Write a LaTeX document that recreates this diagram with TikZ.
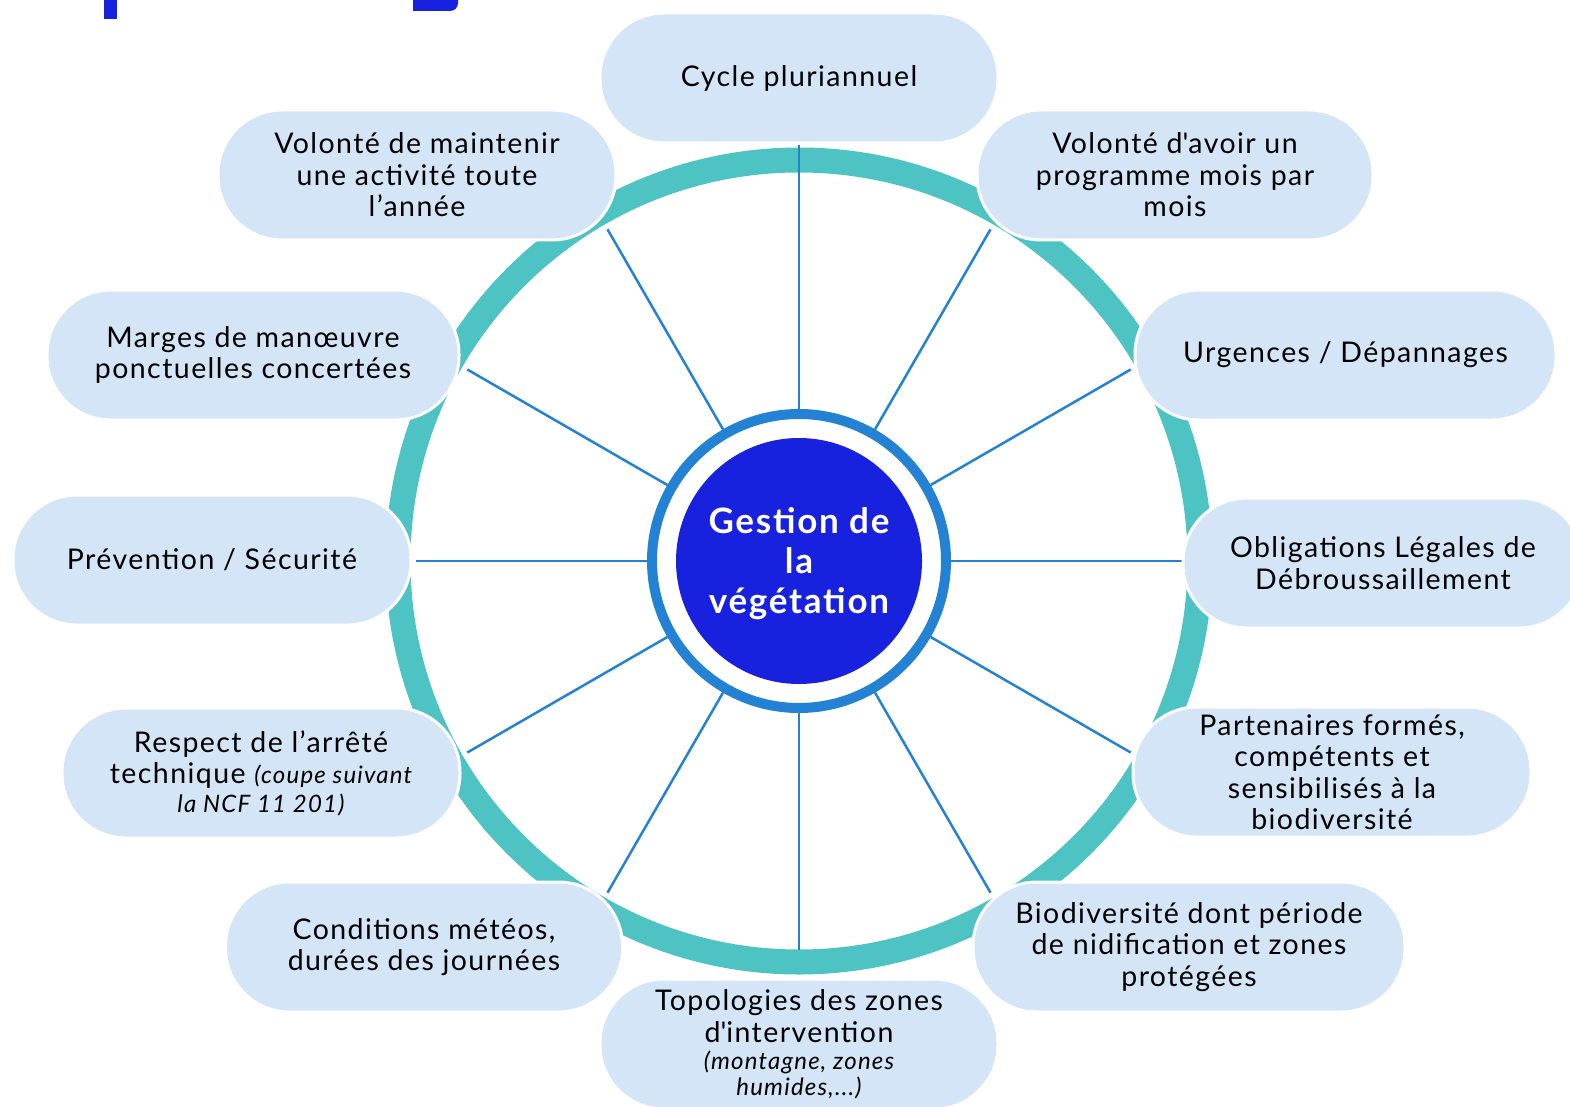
\documentclass[tikz,border=0pt]{standalone}
\usepackage{fontspec}
\setmainfont{Lato}[LetterSpace=5]
\usetikzlibrary{calc}
\definecolor{ringteal}{HTML}{4DC4C3}
\definecolor{hubblue}{HTML}{2482D4}
\definecolor{coreblue}{HTML}{1721DE}
\definecolor{pillfill}{HTML}{D3E5F6}
\tikzset{
  pill/.style={draw=white, line width=3pt, fill=pillfill, rounded corners=64pt,
    minimum width=#1, minimum height=130pt, inner sep=0pt, align=center,
    font=\fontsize{28.5}{31.5}\selectfont, text=black},
  pill/.default=398pt,
  spoke/.style={draw=hubblue, line width=2.5pt},
}
\newcommand{\smit}[1]{{\fontsize{24}{26}\selectfont\itshape #1}}
\begin{document}
\begin{tikzpicture}[x=1pt,y=1pt]
\useasboundingbox (0,0) rectangle (1570,-1107);
\clip (0,0) rectangle (1570,-1107);
% title fragments
\fill[coreblue] (104,0) rectangle (117,-19);
\fill[coreblue] (413,0) -- (458,0) -- (458,-3) arc[start angle=0,end angle=-90,radius=8] -- (413,-11) -- cycle;
\coordinate (c) at (799,-561);
% ring
\draw[ringteal, line width=25pt] (c) circle[radius=401];
% hub
\node[circle, draw=hubblue, line width=10pt, fill=white, minimum size=294pt, inner sep=0pt] (hub) at (c) {};
% spokes
\foreach \a/\r in {90/416,60/383,30/383,0/383,-30/383,-60/383,-90/389,-120/383,-150/383,180/383,150/383,120/383}{
  \coordinate (e\a) at ($(c)+(\a:\r)$);
  \draw[spoke] (hub.\a) -- (e\a);
}
% core
\node[circle, fill=coreblue, minimum size=246pt, inner sep=0pt] (core) at (c) {};
\node[text=white, align=center, inner sep=0pt,
  font=\fontsize{35}{40}\selectfont\bfseries] (coretext) at ([yshift=-3pt]core.center) {Gestion de\\la\\végétation};
% pills
\node[pill] (p1) at (799,-78) {Cycle pluriannuel};
\node[pill=396pt] (p2) at (1175,-175) {Volonté d\textquotesingle avoir un\\programme mois par\\mois};
\node[pill=421pt] (p3) at (1345.5,-355) {Urgences / Dépannages};
\node[pill=400pt] (p4) at (1383,-563) {Obligations Légales de\\Débroussaillement};
\node[pill] (p5) at (1332,-772) {Partenaires formés,\\compétents et\\sensibilisés à la\\biodiversité};
\node[pill=432pt] (p6) at (1189,-947) {Biodiversité dont période\\de nidification et zones\\protégées};
\node[pill] (p7) at (799,-1044) {Topologies des zones\\d\textquotesingle intervention\\[-4pt]\smit{(montagne, zones}\\[-6pt]\smit{humides,...)}};
\node[pill=397pt] (p8) at (424,-947) {Conditions météos,\\durées des journées};
\node[pill] (p9) at (261,-773) {Respect de l’arrêté\\technique \smit{(coupe suivant}\\[-3pt]\smit{la NCF 11 201)}};
\node[pill] (p10) at (212,-560) {Prévention / Sécurité};
\node[pill=412pt] (p11) at (253,-355) {Marges de manœuvre\\ponctuelles concertées};
\node[pill] (p12) at (417,-175) {Volonté de maintenir\\une activité toute\\l’année};
\end{tikzpicture}
\end{document}
